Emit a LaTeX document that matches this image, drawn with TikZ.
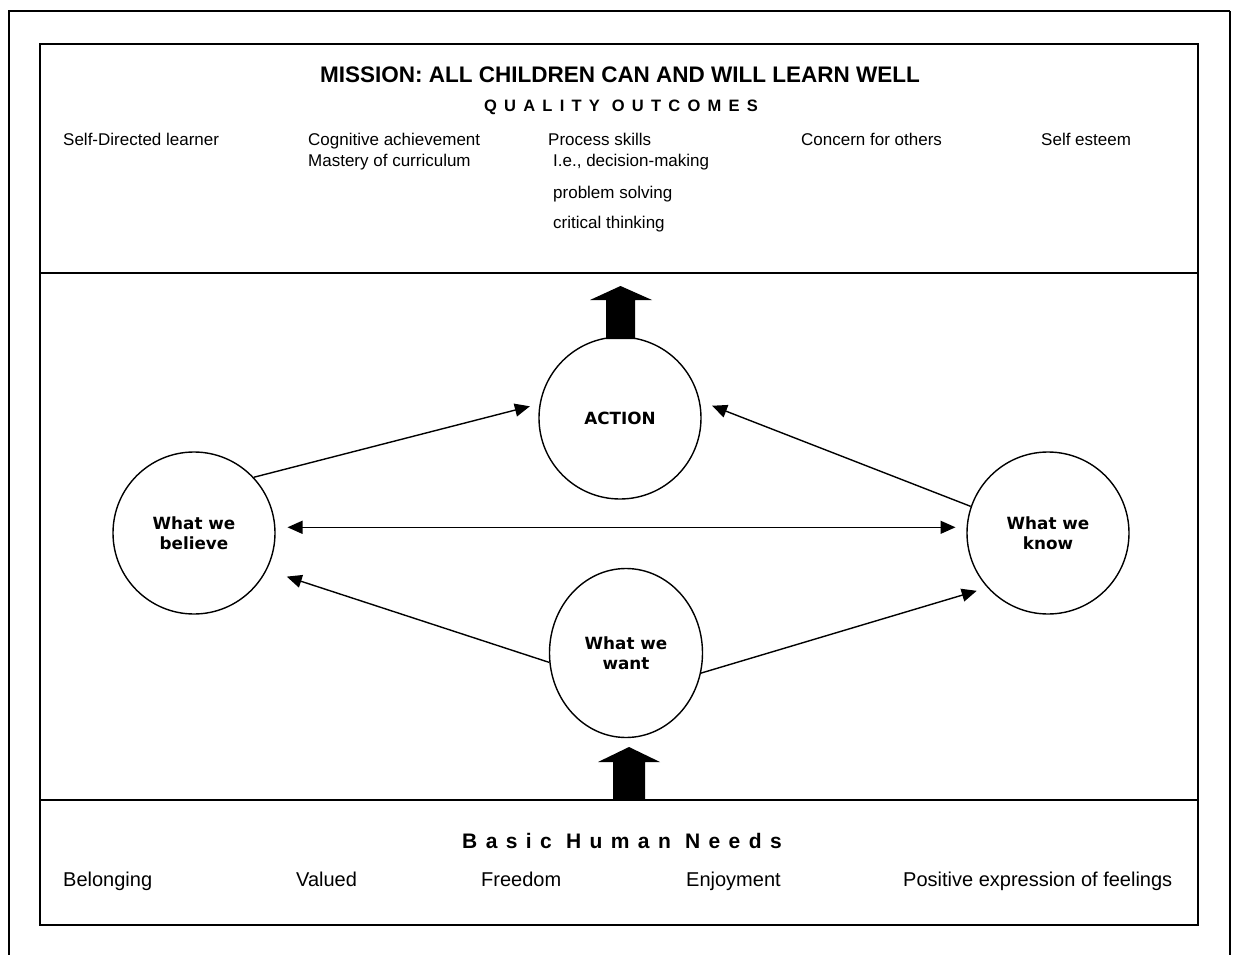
\documentclass[tikz,border=0pt]{standalone}
\usepackage{fontspec}
\setmainfont{Liberation Sans}
\newfontfamily\qualfont[LetterSpace=44]{Liberation Sans}
\newfontfamily\needfont[LetterSpace=40]{Liberation Sans}
\newfontfamily\circfont{DejaVu Sans}
\usetikzlibrary{arrows.meta,shapes.geometric}
\begin{document}
\begin{tikzpicture}[x=1pt,y=-1pt,
  frame/.style={line width=1.3pt},
  ring/.style={draw, circle, line width=1.4pt, minimum size=162pt, inner sep=0pt, align=center,
    font=\circfont\bfseries\fontsize{16.8}{20}\selectfont},
  oval/.style={draw, ellipse, line width=1.4pt, minimum width=153pt, minimum height=169pt, inner sep=0pt, align=center,
    font=\circfont\bfseries\fontsize{16.8}{20}\selectfont},
  link/.style={line width=1.4pt, -{Triangle[length=15pt,width=13pt]}},
  blk/.style={fill=black},
  item/.style={anchor=base west, inner sep=0pt, font=\fontsize{17}{20}\selectfont},
  need/.style={anchor=base west, inner sep=0pt, font=\fontsize{20}{24}\selectfont},
  title/.style={anchor=base, inner sep=0pt, font=\bfseries\fontsize{22.5}{26}\selectfont},
  spaced/.style={anchor=base, inner sep=0pt}
]
\useasboundingbox (0,0) rectangle (1235,955);
% outer frame
\draw[line width=1.6pt] (9,955) -- (9,11) -- (1230,11);
\draw[line width=2.6pt] (1230,11) -- (1230,955);
% inner box
\draw[frame] (40,44) rectangle (1198,925);
\draw[frame] (40,273) -- (1198,273);
\draw[frame] (40,800) -- (1198,800);

% top texts
\node[title] (mission) at (620,83) {MISSION: ALL CHILDREN CAN AND WILL LEARN WELL};
\node[spaced] (quality) at (621,112) {\qualfont\bfseries\fontsize{16.5}{20}\selectfont QUALITY OUTCOMES};
\node[item] (o1) at (63,146) {Self-Directed learner};
\node[item] (o2) at (308,146) {Cognitive achievement};
\node[item] (o2b) at (308,167) {Mastery of curriculum};
\node[item] (o3) at (548,146) {Process skills};
\node[item] (o3a) at (553,167) {I.e., decision-making};
\node[item] (o3b) at (553,198) {problem solving};
\node[item] (o3c) at (553,229) {critical thinking};
\node[item] (o4) at (801,146) {Concern for others};
\node[item] (o5) at (1041,146) {Self esteem};

% circles
\node[ring] (action) at (620,418) {ACTION};
\node[ring] (believe) at (194,533) {What we\\believe};
\node[ring] (know) at (1048,533) {What we\\know};
\node[oval] (want) at (626,653) {What we\\want};

% connectors
\draw[link, shorten >=10pt] (believe.43) -- (action.170);
\draw[link, shorten >=13pt] (know.161) -- (action.12);
\draw[line width=1.4pt, {Triangle[length=15pt,width=13pt]}-{Triangle[length=15pt,width=13pt]}, shorten <=12pt, shorten >=11pt] (believe.4) -- (know.176);
\draw[link, shorten >=21pt] (want.187) -- (believe.-27);
\draw[link, shorten >=11pt] (want.-15) -- (know.222);

% block arrows
\fill[blk] (606,339) -- (606,300) -- (590,300) -- (620.5,286) -- (652,300) -- (635,300) -- (635,339) -- cycle;
\fill[blk] (613,800) -- (613,762) -- (598,762) -- (629,747) -- (660,762) -- (645,762) -- (645,800) -- cycle;

% bottom texts
\node[spaced] (basic) at (622,848) {\needfont\bfseries\fontsize{21}{25}\selectfont Basic Human Needs};
\node[need] (n1) at (63,886) {Belonging};
\node[need] (n2) at (296,886) {Valued};
\node[need] (n3) at (481,886) {Freedom};
\node[need] (n4) at (686,886) {Enjoyment};
\node[need] (n5) at (903,886) {Positive expression of feelings};
\end{tikzpicture}
\end{document}
